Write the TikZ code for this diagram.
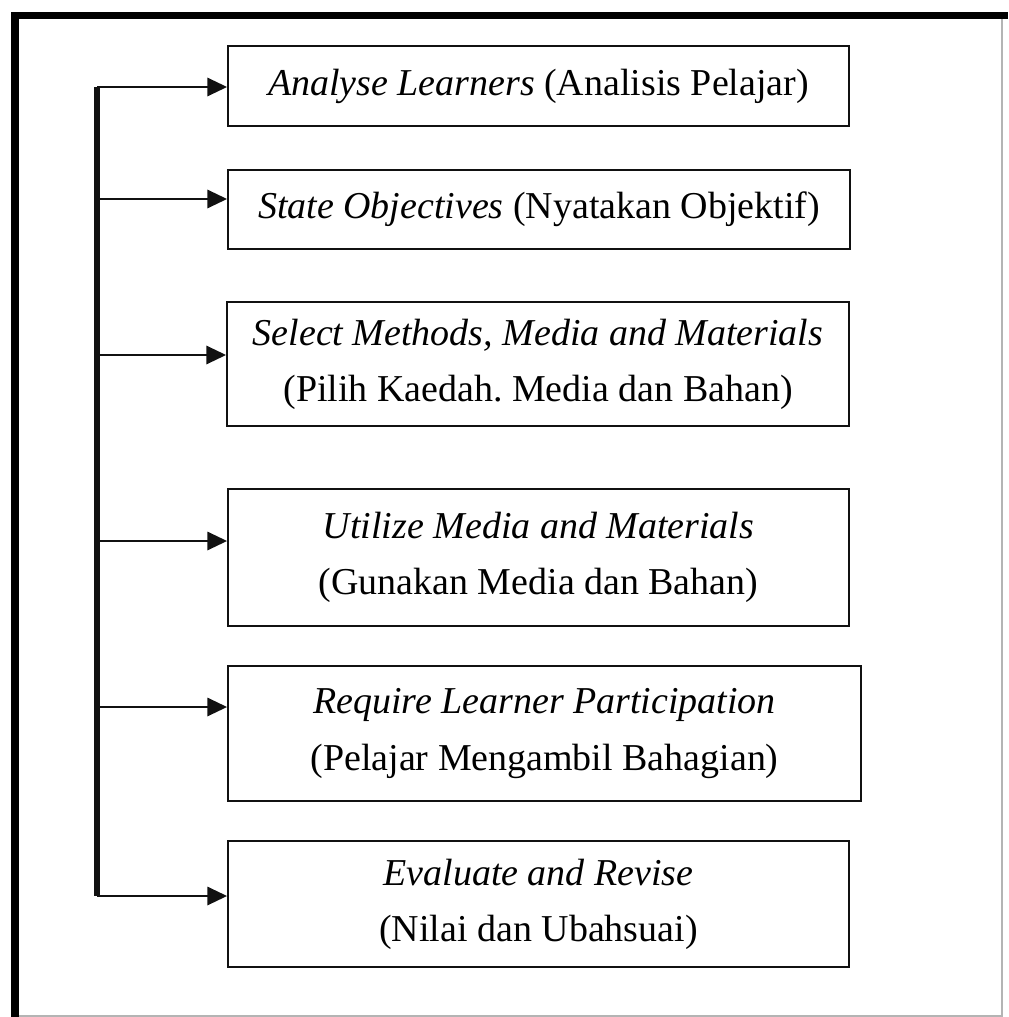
\documentclass[tikz,border=0pt]{standalone}
\usepackage{fontspec}
\setmainfont{Liberation Serif}
\usetikzlibrary{arrows.meta}
\definecolor{framegray}{HTML}{B4B4B4}
\definecolor{inkblack}{HTML}{111111}
\frenchspacing
\tikzset{
  stage/.style={
    rectangle,
    draw=inkblack,
    line width=1.2pt,
    minimum width=15.525cm,
    inner sep=0pt,
    align=center,
    font=\fontsize{27}{40}\selectfont,
  },
  spine/.style={
    draw=inkblack,
    line width=3.6pt,
  },
  feed/.style={
    -{Triangle[length=14pt,width=13pt]},
    draw=inkblack,
    line width=1.5pt,
  },
  outer heavy/.style={
    draw=black,
    line width=5.5pt,
  },
  outer light/.style={
    draw=framegray,
    line width=1pt,
  },
}

\begin{document}
\begin{tikzpicture}[x=0.025cm,y=-0.025cm]
  \useasboundingbox (0,0) rectangle (1008,1017);

  % Outer frame: heavy top and left, light right and bottom.
  \draw[outer light] (1002,15) -- (1002,1016) -- (15,1016);
  \draw[outer heavy] (15,1017) -- (15,15.5) -- (1008,15.5);

  % The six stages of the model.
  \node[stage, minimum height=2.0cm] (analyse) at (538.5,86)
    {\textit{Analyse Learners} (Analisis Pelajar)};
  \node[stage, minimum height=1.975cm, minimum width=15.55cm] (state) at (539,209.5)
    {\textit{State Objectives} (Nyatakan Objektif)};
  \node[stage, minimum height=3.1cm, minimum width=15.55cm] (select) at (538,364)
    {\textit{Select Methods, Media and Materials}\\(Pilih Kaedah. Media dan Bahan)};
  \node[stage, minimum height=3.425cm] (utilize) at (538.5,557.5)
    {\textit{Utilize Media and Materials}\\(Gunakan Media dan Bahan)};
  \node[stage, minimum height=3.375cm, minimum width=15.825cm] (require) at (544.5,733.5)
    {\textit{Require Learner Participation}\\(Pelajar Mengambil Bahagian)};
  \node[stage, minimum height=3.15cm] (evaluate) at (538.5,904)
    {\textit{Evaluate and Revise}\\(Nilai dan Ubahsuai)};

  % Branch points on the spine.
  \coordinate (s1) at (97,87);
  \coordinate (s2) at (97,199);
  \coordinate (s3) at (97,355);
  \coordinate (s4) at (97,541);
  \coordinate (s5) at (97,707);
  \coordinate (s6) at (97,896);

  \draw[spine] (s1) -- (s6);

  % Each branch feeds one stage.
  \foreach \snode/\bnode in {s1/analyse,s2/state,s3/select,s4/utilize,s5/require,s6/evaluate}{
    \draw[feed] (\snode) -- (\snode -| \bnode.west);
  }
\end{tikzpicture}
\end{document}
